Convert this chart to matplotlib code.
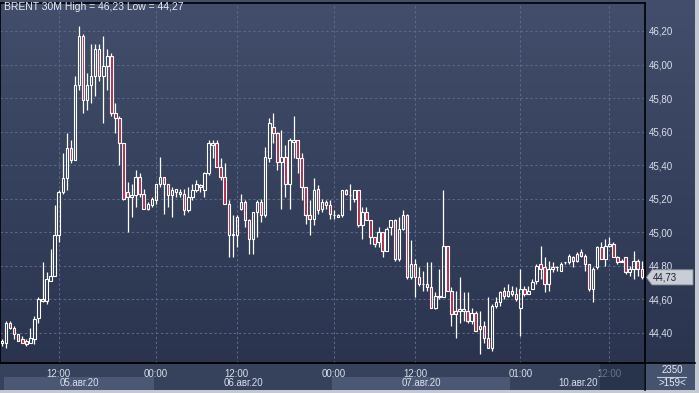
import matplotlib
matplotlib.use("Agg")
import matplotlib.pyplot as plt
import matplotlib.transforms as mtransforms
from matplotlib.patches import Rectangle, Polygon
import numpy as np

# BRENT 30M candles (bar 0 .. 158)
opens = [
    44.34, 44.34, 44.46, 44.43, 44.39, 44.36, 44.35, 44.34, 44.36, 44.49,  # 0
    44.60, 44.59, 44.71, 44.74, 44.98, 45.24, 45.32, 45.50, 45.43, 45.88,  # 10
    46.17, 45.79, 45.88, 45.93, 46.09, 45.93, 45.99, 46.05, 45.71, 45.68,  # 20
    45.53, 45.24, 45.21, 45.22, 45.33, 45.23, 45.14, 45.16, 45.19, 45.29,  # 30
    45.33, 45.29, 45.22, 45.24, 45.24, 45.23, 45.13, 45.21, 45.25, 45.28,  # 40
    45.25, 45.35, 45.52, 45.53, 45.39, 45.33, 45.17, 44.98, 44.98, 45.14,  # 50
    45.18, 45.07, 44.96, 45.12, 45.18, 45.10, 45.44, 45.63, 45.59, 45.42,  # 60
    45.45, 45.29, 45.54, 45.55, 45.44, 45.27, 45.10, 45.08, 45.26, 45.14,  # 70
    45.18, 45.16, 45.10, 45.10, 45.10, 45.25, 45.22, 45.20, 45.25, 45.04,  # 80
    45.12, 45.07, 44.97, 44.94, 45.00, 44.89, 45.03, 45.07, 44.84, 45.02,  # 90
    45.10, 44.73, 44.81, 44.73, 44.69, 44.69, 44.67, 44.55, 44.61, 44.61,  # 100
    44.92, 44.65, 44.53, 44.53, 44.53, 44.53, 44.47, 44.52, 44.44, 44.44,  # 110
    44.37, 44.31, 44.56, 44.58, 44.65, 44.62, 44.65, 44.63, 44.55, 44.66,  # 120
    44.63, 44.66, 44.71, 44.81, 44.79, 44.69, 44.78, 44.79, 44.77, 44.82,  # 130
    44.82, 44.85, 44.83, 44.88, 44.86, 44.81, 44.66, 44.79, 44.91, 44.84,  # 140
    44.92, 44.93, 44.85, 44.82, 44.85, 44.76, 44.78, 44.83, 44.78,         # 150
]
highs = [
    44.36, 44.47, 44.47, 44.44, 44.39, 44.38, 44.36, 44.43, 44.50, 44.61,
    44.82, 44.76, 44.90, 45.16, 45.25, 45.47, 45.59, 45.55, 45.93, 46.23,
    46.18, 45.95, 46.12, 46.12, 46.12, 46.17, 46.09, 46.07, 45.77, 45.69,
    45.53, 45.30, 45.29, 45.37, 45.35, 45.26, 45.18, 45.21, 45.29, 45.45,
    45.33, 45.29, 45.27, 45.26, 45.26, 45.26, 45.27, 45.29, 45.31, 45.29,
    45.36, 45.55, 45.55, 45.55, 45.44, 45.41, 45.19, 45.10, 45.10, 45.23,
    45.19, 45.08, 45.12, 45.19, 45.20, 45.51, 45.68, 45.71, 45.60, 45.61,
    45.52, 45.56, 45.69, 45.55, 45.47, 45.27, 45.19, 45.32, 45.28, 45.20,
    45.19, 45.19, 45.13, 45.11, 45.25, 45.26, 45.29, 45.25, 45.25, 45.15,
    45.15, 45.07, 44.97, 45.03, 45.00, 45.03, 45.07, 45.08, 45.09, 45.13,
    45.11, 44.95, 44.84, 44.79, 44.77, 44.82, 44.82, 44.64, 44.78, 45.25,
    44.92, 44.67, 44.65, 44.73, 44.64, 44.64, 44.55, 44.53, 44.53, 44.47,
    44.61, 44.57, 44.61, 44.65, 44.67, 44.69, 44.68, 44.67, 44.78, 44.68,
    44.68, 44.72, 44.81, 44.92, 44.85, 44.83, 44.82, 44.80, 44.82, 44.82,
    44.87, 44.86, 44.88, 44.90, 44.87, 44.81, 44.79, 44.92, 44.94, 44.96,
    44.97, 44.94, 44.86, 44.84, 44.85, 44.80, 44.89, 44.84, 44.83,
]
lows = [
    44.32, 44.31, 44.42, 44.36, 44.35, 44.34, 44.32, 44.34, 44.33, 44.46,
    44.58, 44.57, 44.71, 44.74, 44.94, 45.23, 45.25, 45.41, 45.43, 45.85,
    45.71, 45.73, 45.77, 45.81, 45.90, 45.65, 45.85, 45.69, 45.59, 45.40,
    45.19, 45.00, 45.09, 45.15, 45.21, 45.14, 45.13, 45.15, 45.17, 45.27,
    45.11, 45.15, 45.09, 45.21, 45.21, 45.10, 45.12, 45.19, 45.24, 45.24,
    45.21, 45.34, 45.44, 45.39, 45.31, 45.17, 44.85, 44.85, 44.91, 45.13,
    45.03, 44.87, 44.87, 44.97, 45.06, 45.09, 45.42, 45.53, 45.37, 45.14,
    45.21, 45.14, 45.44, 45.35, 45.19, 45.05, 44.98, 45.04, 45.11, 45.12,
    45.14, 45.08, 45.08, 45.09, 45.09, 45.22, 45.13, 45.18, 45.03, 44.96,
    45.07, 44.93, 44.91, 44.91, 44.85, 44.89, 44.98, 44.83, 44.83, 45.01,
    44.72, 44.72, 44.61, 44.68, 44.65, 44.65, 44.55, 44.54, 44.60, 44.61,
    44.65, 44.44, 44.37, 44.46, 44.47, 44.46, 44.45, 44.41, 44.27, 44.34,
    44.31, 44.29, 44.55, 44.56, 44.60, 44.61, 44.62, 44.59, 44.38, 44.62,
    44.63, 44.66, 44.69, 44.72, 44.64, 44.65, 44.76, 44.77, 44.77, 44.81,
    44.81, 44.79, 44.82, 44.85, 44.77, 44.65, 44.58, 44.78, 44.84, 44.80,
    44.91, 44.85, 44.81, 44.82, 44.75, 44.74, 44.72, 44.74, 44.72,
]
closes = [
    44.35, 44.46, 44.43, 44.39, 44.35, 44.34, 44.33, 44.37, 44.48, 44.60,
    44.59, 44.72, 44.74, 44.98, 45.24, 45.32, 45.50, 45.43, 45.88, 46.17,
    45.79, 45.88, 45.93, 46.09, 45.93, 45.99, 46.05, 45.71, 45.68, 45.53,
    45.20, 45.21, 45.22, 45.33, 45.23, 45.14, 45.17, 45.20, 45.29, 45.33,
    45.29, 45.22, 45.25, 45.26, 45.23, 45.13, 45.21, 45.25, 45.29, 45.27,
    45.35, 45.53, 45.53, 45.39, 45.33, 45.17, 44.98, 44.99, 45.09, 45.18,
    45.07, 44.96, 45.12, 45.18, 45.10, 45.45, 45.65, 45.59, 45.42, 45.45,
    45.29, 45.55, 45.55, 45.44, 45.27, 45.10, 45.08, 45.25, 45.13, 45.18,
    45.16, 45.11, 45.10, 45.09, 45.25, 45.23, 45.22, 45.25, 45.04, 45.12,
    45.07, 44.97, 44.93, 45.00, 44.89, 45.02, 45.07, 44.84, 45.02, 45.10,
    44.73, 44.81, 44.73, 44.69, 44.69, 44.67, 44.55, 44.62, 44.62, 44.92,
    44.65, 44.51, 44.51, 44.54, 44.54, 44.47, 44.52, 44.41, 44.42, 44.37,
    44.31, 44.56, 44.58, 44.64, 44.62, 44.65, 44.63, 44.60, 44.66, 44.63,
    44.65, 44.70, 44.80, 44.78, 44.69, 44.78, 44.79, 44.79, 44.81, 44.82,
    44.86, 44.83, 44.87, 44.86, 44.81, 44.66, 44.78, 44.91, 44.84, 44.92,
    44.93, 44.85, 44.82, 44.83, 44.76, 44.78, 44.83, 44.78, 44.73,
]

time_tick_idx = [14, 38, 58, 82, 102, 128, 150]
time_tick_labels = ["12:00", "00:00", "12:00", "00:00", "12:00", "01:00", "12:00"]
day_edges = [0.5, 37.5, 81.5, 125.5, 158.8]
day_labels = ["05.авг.20", "06.авг.20", "07.авг.20", "10.авг.20"]
price_ticks = [44.40, 44.60, 44.80, 45.00, 45.20, 45.40, 45.60, 45.80, 46.00, 46.20]
bar_count_text = "2350"
view_text = ">159<"


def fmt(p):
    return f"{p:.2f}".replace(".", ",")


W, H = 699, 393
plt.rcParams['font.family'] = ['Liberation Sans', 'DejaVu Sans']
fig = plt.figure(figsize=(W / 100, H / 100), dpi=100)

# background / frame in pixel coords
bg = fig.add_axes([0, 0, 1, 1], zorder=0)
bg.set_xlim(0, W)
bg.set_ylim(H, 0)
bg.axis("off")
top_rgb = np.array([0x42, 0x4e, 0x6b]) / 255
bot_rgb = np.array([0x2a, 0x34, 0x4f]) / 255
t = np.linspace(0, 1, 256)[:, None, None]
grad = (1 - t) * top_rgb + t * bot_rgb
bg.imshow(grad, extent=(0, 695, 363, 0), aspect="auto", interpolation="bilinear")
bg.add_patch(Rectangle((0, 363), 695, 27, color="#36425c", lw=0))
bg.add_patch(Rectangle((645, 363), 50, 27, color="#46536f", lw=0))
bg.add_patch(Rectangle((695, 0), 4, H, color="#c3c8d1", lw=0))
bg.add_patch(Rectangle((0, 390), W, 3, color="#c3c8d1", lw=0))
bg.plot([0, 695], [363, 363], color="black", lw=1.2)
bg.plot([645, 645], [363, 390], color="black", lw=1.2)

# main price axes
ax = fig.add_axes([0, 1 - 363 / H, 645 / W, 360 / H], zorder=2)
ax.patch.set_alpha(0)
idx = np.arange(len(closes))
o = np.array(opens)
c = np.array(closes)
hi = np.array(highs)
lo = np.array(lows)
body_lo = np.minimum(o, c)
body_hi = np.maximum(o, c)
down = c < o

ax.vlines(idx, body_hi, hi, color="white", lw=0.9, zorder=3)
ax.vlines(idx, lo, body_lo, color="white", lw=0.9, zorder=3)
face = ["#b8284a" if d else "none" for d in down]
ax.bar(idx, body_hi - body_lo, bottom=body_lo, width=0.62, color=face,
       edgecolor="white", linewidth=0.8, zorder=4)

ax.set_xlim(-0.5, 158.8)
ax.set_ylim(44.219, 46.367)
ax.set_axisbelow(True)
ax.grid(True, color="#5b6a89", linestyle=(0, (2.5, 2.5)), linewidth=0.7)
for s in ax.spines.values():
    s.set_color("black")
    s.set_linewidth(1.2)

ax.yaxis.tick_right()
ax.set_yticks(price_ticks, [fmt(p) for p in price_ticks])
ax.tick_params(axis="y", length=0, pad=3, labelsize=7, labelcolor="#d9dfea")
ax.set_xticks(time_tick_idx, time_tick_labels)
ax.tick_params(axis="x", length=0, pad=4, labelsize=7, labelcolor="#d9dfea")

blend = mtransforms.blended_transform_factory(ax.transData, ax.transAxes)
for k, lab in enumerate(day_labels):
    e0, e1 = day_edges[k], day_edges[k + 1]
    if k % 2 == 0:
        ax.add_patch(Rectangle((e0, -0.075), e1 - e0, 0.036, transform=blend,
                               color="#4a5876", lw=0, clip_on=False, zorder=0.5))
    ax.text((e0 + e1) / 2, -0.056, lab, transform=blend, ha="center", va="center",
            fontsize=7, color="#d9dfea", clip_on=False)
# dimmed scroll region at the right end of the time strip
ax.add_patch(Rectangle((147.7, -0.075), 158.8 - 147.7, 0.073, transform=blend,
                       color="#1f2942", alpha=0.6, lw=0, clip_on=False, zorder=5))

# last price marker
last = closes[-1]
yb = mtransforms.blended_transform_factory(ax.transAxes, ax.transData)
hh = 0.045
pts = [(1 + 1.5 / 645, last), (1 + 7 / 645, last + hh), (1 + 48 / 645, last + hh),
       (1 + 48 / 645, last - hh), (1 + 7 / 645, last - hh)]
ax.add_patch(Polygon(pts, closed=True, transform=yb, facecolor="#c9cdd5",
                     edgecolor="#8d95a3", lw=0.6, clip_on=False, zorder=6))
ax.text(1 + 8 / 645, last, fmt(last), transform=yb, ha="left", va="center",
        fontsize=7, color="#1b2232", clip_on=False, zorder=7)

# title and bottom-right info
fig.text(4 / W, 1 - 7.5 / H,
         f"BRENT 30M High = {fmt(max(highs))} Low = {fmt(min(lows))}",
         ha="left", va="center", fontsize=7.5, color="#e8ecf3")
fig.text(672 / W, 1 - 370 / H, bar_count_text, ha="center", va="center",
         fontsize=7, color="#e8ecf3")
bg.plot([657, 686], [377, 377], color="#c8cfdc", lw=0.8)
fig.text(672 / W, 1 - 383.5 / H, view_text, ha="center", va="center",
         fontsize=7, color="#e8ecf3")

fig.savefig("out.png", dpi=100)
